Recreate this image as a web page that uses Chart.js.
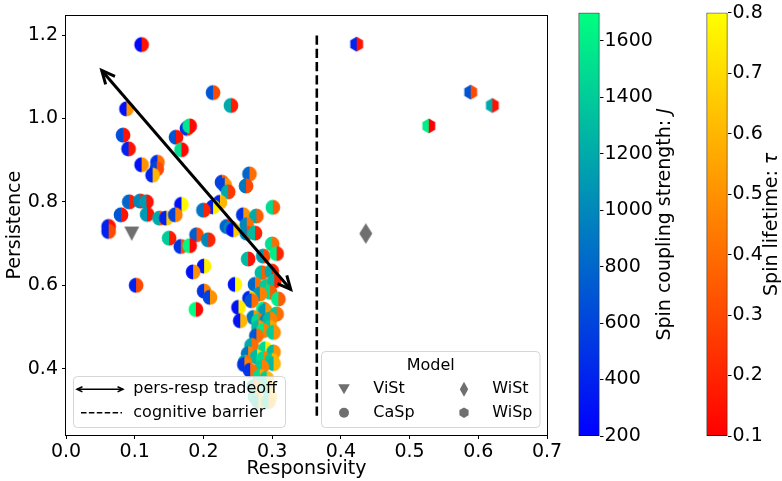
<!DOCTYPE html>
<html>
<head>
<meta charset="utf-8">
<script src="https://cdn.jsdelivr.net/npm/chart.js@4.4.1/dist/chart.umd.min.js"></script>
<style>
  html, body { margin: 0; padding: 0; background: #fff; }
  #wrap { position: relative; width: 782px; height: 481px; overflow: hidden; }
  #wrap canvas { position: absolute; top: 0; }
</style>
</head>
<body>
<div id="wrap">
  <canvas id="main" width="600" height="481" style="left:0"></canvas>
  <canvas id="barJ" width="110" height="481" style="left:578px"></canvas>
  <canvas id="barTau" width="76" height="481" style="left:706px"></canvas>
</div>
<script>
// CaSp runs: responsivity, persistence, coupling strength J, spin lifetime tau
const caspResp = [0.110, 0.214, 0.240, 0.088, 0.176, 0.180, 0.083, 0.160, 0.091, 0.168,
  0.110, 0.133, 0.132, 0.126, 0.267, 0.227, 0.231, 0.262, 0.236, 0.092,
  0.108, 0.117, 0.168, 0.224, 0.301, 0.214, 0.200, 0.080, 0.118, 0.136,
  0.146, 0.159, 0.258, 0.277, 0.062, 0.062, 0.234, 0.240, 0.2435, 0.263,
  0.263, 0.275, 0.190, 0.150, 0.207, 0.167, 0.180, 0.300, 0.265, 0.287,
  0.3065, 0.201, 0.185, 0.285, 0.2995, 0.102, 0.246, 0.275, 0.292, 0.303,
  0.201, 0.297, 0.282, 0.2095, 0.267, 0.270, 0.309, 0.189, 0.251, 0.287,
  0.290, 0.3065, 0.273, 0.2535, 0.280, 0.292, 0.297, 0.280, 0.297, 0.287,
  0.302, 0.277, 0.270, 0.290, 0.302, 0.265, 0.278, 0.287, 0.2995, 0.2605,
  0.2595, 0.302, 0.285, 0.268, 0.282, 0.292, 0.273, 0.292, 0.275, 0.297,
  0.280, 0.2945];
const caspPers = [1.177, 1.062, 1.031, 1.023, 0.976, 0.982, 0.960, 0.955, 0.927, 0.925,
  0.889, 0.895, 0.879, 0.864, 0.867, 0.847, 0.840, 0.838, 0.824, 0.800,
  0.802, 0.800, 0.794, 0.799, 0.787, 0.788, 0.780, 0.769, 0.770, 0.761,
  0.761, 0.769, 0.769, 0.766, 0.741, 0.729, 0.741, 0.737, 0.733, 0.745,
  0.725, 0.725, 0.721, 0.713, 0.709, 0.693, 0.695, 0.699, 0.663, 0.670,
  0.676, 0.646, 0.632, 0.630, 0.634, 0.600, 0.602, 0.602, 0.598, 0.610,
  0.586, 0.583, 0.579, 0.571, 0.569, 0.563, 0.567, 0.542, 0.547, 0.543,
  0.539, 0.531, 0.523, 0.515, 0.515, 0.515, 0.519, 0.499, 0.499, 0.491,
  0.487, 0.479, 0.456, 0.448, 0.440, 0.436, 0.428, 0.424, 0.420, 0.416,
  0.410, 0.412, 0.404, 0.396, 0.381, 0.377, 0.357, 0.357, 0.333, 0.333,
  0.321, 0.321];
const caspJ = [250, 700, 1200, 300, 500, 1550, 650, 700, 400, 1500,
  300, 500, 600, 400, 800, 600, 600, 900, 1200, 800,
  1000, 1100, 300, 400, 1500, 400, 900, 700, 1100, 1200,
  400, 600, 500, 1200, 400, 400, 800, 1000, 300, 1000,
  1000, 1300, 750, 1400, 1000, 500, 1650, 1500, 1300, 1100,
  1600, 300, 300, 1300, 1200, 400, 300, 800, 1400, 1300,
  500, 1500, 1100, 600, 400, 700, 1600, 1700, 300, 1600,
  1100, 1400, 900, 300, 1500, 1000, 1300, 1300, 1400, 1600,
  1400, 700, 1200, 1500, 1300, 900, 1300, 1500, 1400, 1200,
  500, 1300, 1400, 500, 1500, 1400, 1300, 1500, 1400, 1500,
  1300, 1400];
const caspTau = [0.15, 0.30, 0.18, 0.50, 0.20, 0.12, 0.15, 0.15, 0.15, 0.12,
  0.50, 0.40, 0.30, 0.60, 0.40, 0.35, 0.50, 0.30, 0.25, 0.18,
  0.20, 0.15, 0.78, 0.60, 0.35, 0.75, 0.20, 0.15, 0.15, 0.35,
  0.65, 0.45, 0.50, 0.35, 0.15, 0.30, 0.18, 0.35, 0.65, 0.40,
  0.30, 0.20, 0.30, 0.18, 0.20, 0.30, 0.12, 0.40, 0.15, 0.30,
  0.20, 0.75, 0.50, 0.35, 0.20, 0.30, 0.78, 0.40, 0.50, 0.20,
  0.45, 0.35, 0.45, 0.50, 0.70, 0.40, 0.35, 0.12, 0.75, 0.40,
  0.50, 0.40, 0.50, 0.60, 0.40, 0.45, 0.45, 0.50, 0.55, 0.45,
  0.50, 0.40, 0.40, 0.75, 0.50, 0.45, 0.70, 0.45, 0.60, 0.40,
  0.45, 0.60, 0.45, 0.40, 0.55, 0.60, 0.50, 0.60, 0.55, 0.65,
  0.60, 0.55];

// WiSp runs
const wispResp = [0.423, 0.589, 0.6205, 0.528];
const wispPers = [1.178, 1.063, 1.031, 0.982];
const wispJ = [400, 700, 1200, 1600];
const wispTau = [0.15, 0.30, 0.15, 0.10];

// single-point models
const vistResp = [0.0956];
const vistPers = [0.724];
const wistResp = [0.4363];
const wistPers = [0.724];

// guide lines
const tradeoffResp = [0.052, 0.327];
const tradeoffPers = [1.115, 0.59];
const barrierResp = [0.365, 0.365];
const barrierPers = [0.287, 1.2];

// axes
const respTicks = [0, 0.1, 0.2, 0.3, 0.4, 0.5, 0.6, 0.7];
const persTicks = [0.4, 0.6, 0.8, 1.0, 1.2];
const jRange = [200, 1700];
const jTicks = [200, 400, 600, 800, 1000, 1200, 1400, 1600];
const tauRange = [0.1, 0.8];
const tauTicks = [0.1, 0.2, 0.3, 0.4, 0.5, 0.6, 0.7, 0.8];

const GREY = '#6f6f6f';
Chart.defaults.font.family = "'DejaVu Sans', sans-serif";
Chart.defaults.color = '#000';

// winter colormap for J, autumn colormap for tau
function winter(j) {
  const t = Math.min(1, Math.max(0, (j - jRange[0]) / (jRange[1] - jRange[0])));
  return `rgb(0, ${Math.round(255 * t)}, ${Math.round(255 * (1 - 0.5 * t))})`;
}
function autumn(tau) {
  const t = Math.min(1, Math.max(0, (tau - tauRange[0]) / (tauRange[1] - tauRange[0])));
  return `rgb(255, ${Math.round(255 * t)}, 0)`;
}

function shapePath(g, shape, c, r) {
  g.beginPath();
  if (shape === 'hex') {
    for (let k = 0; k < 6; k++) {
      const a = -Math.PI / 2 + k * Math.PI / 3;
      g.lineTo(c + r * Math.cos(a), c + r * Math.sin(a));
    }
    g.closePath();
  } else {
    g.arc(c, c, r, 0, 2 * Math.PI);
  }
}

// marker image: left half coloured by J, right half by tau
function splitMarker(left, right, shape) {
  const s = 18, c = s / 2;
  const cv = document.createElement('canvas');
  cv.width = cv.height = s;
  const g = cv.getContext('2d');
  shapePath(g, shape, c, 7.4);
  g.clip();
  g.fillStyle = left;
  g.fillRect(0, 0, c, s);
  g.fillStyle = right;
  g.fillRect(c, 0, c, s);
  return cv;
}

function polyMarker(w, h, pts) {
  const cv = document.createElement('canvas');
  cv.width = w;
  cv.height = h;
  const g = cv.getContext('2d');
  g.fillStyle = GREY;
  g.beginPath();
  pts.forEach(p => g.lineTo(p[0], p[1]));
  g.closePath();
  g.fill();
  return cv;
}

const caspMarkers = caspJ.map((j, i) => splitMarker(winter(j), autumn(caspTau[i]), 'circle'));
const wispMarkers = wispJ.map((j, i) => splitMarker(winter(j), autumn(wispTau[i]), 'hex'));
const triDown = polyMarker(18, 18, [[1.5, 2], [16.5, 2], [9, 16.3]]);
const thinDiamond = polyMarker(16, 24, [[8, 1.7], [14.5, 12], [8, 22.3], [1.5, 12]]);

const pts = (xs, ys) => xs.map((x, i) => ({ x, y: ys[i] }));

// arrow heads on the tradeoff line, frame and the two legends
const overlay = {
  id: 'overlay',
  afterDatasetsDraw(chart) {
    const ctx = chart.ctx;
    const meta = chart.getDatasetMeta(0).data;
    ctx.save();
    ctx.strokeStyle = '#000';
    ctx.lineWidth = 3;
    ctx.lineJoin = 'miter';
    head(ctx, meta[0], meta[1], 14.5);
    head(ctx, meta[1], meta[0], 14.5);

    const a = chart.chartArea;
    ctx.lineWidth = 1;
    ctx.strokeStyle = '#000';
    ctx.strokeRect(Math.round(a.left) - 0.5, Math.round(a.top) + 0.5,
      Math.round(a.right - a.left) + 1, Math.round(a.bottom - a.top));

    // line legend
    box(ctx, 73.5, 376.5, 212, 51);
    ctx.lineWidth = 1.5;
    ctx.beginPath();
    ctx.moveTo(77, 389.3);
    ctx.lineTo(123, 389.3);
    ctx.stroke();
    head(ctx, { x: 77, y: 389.3 }, { x: 123, y: 389.3 }, 6);
    head(ctx, { x: 123, y: 389.3 }, { x: 77, y: 389.3 }, 6);
    ctx.setLineDash([5.5, 2.4]);
    ctx.beginPath();
    ctx.moveTo(81, 412.7);
    ctx.lineTo(122, 412.7);
    ctx.stroke();
    ctx.setLineDash([]);
    ctx.fillStyle = '#000';
    ctx.font = "16px 'DejaVu Sans'";
    ctx.textBaseline = 'middle';
    ctx.fillText('pers-resp tradeoff', 133.3, 389.3);
    ctx.fillText('cognitive barrier', 133.3, 412.7);

    // model legend
    box(ctx, 321.5, 351.5, 218.5, 76);
    ctx.textAlign = 'center';
    ctx.fillText('Model', 430.8, 366);
    ctx.textAlign = 'left';
    ctx.fillText('ViSt', 373.3, 389.3);
    ctx.fillText('WiSt', 492.3, 389.3);
    ctx.fillText('CaSp', 373.3, 412.7);
    ctx.fillText('WiSp', 492.3, 412.7);
    ctx.fillStyle = GREY;
    poly(ctx, [[338.2, 384.3], [349.8, 384.3], [344, 394.3]]);
    poly(ctx, [[464, 381.8], [468.2, 389.3], [464, 396.8], [459.8, 389.3]]);
    ctx.beginPath();
    ctx.arc(344, 412.7, 5, 0, 2 * Math.PI);
    ctx.fill();
    ctx.beginPath();
    for (let k = 0; k < 6; k++) {
      const t = -Math.PI / 2 + k * Math.PI / 3;
      ctx.lineTo(464 + 5.3 * Math.cos(t), 412.7 + 5.3 * Math.sin(t));
    }
    ctx.fill();
    ctx.restore();
  }
};

function head(ctx, tip, from, len) {
  const a = Math.atan2(tip.y - from.y, tip.x - from.x);
  const w = 0.44;
  ctx.beginPath();
  ctx.moveTo(tip.x - len * Math.cos(a - w), tip.y - len * Math.sin(a - w));
  ctx.lineTo(tip.x, tip.y);
  ctx.lineTo(tip.x - len * Math.cos(a + w), tip.y - len * Math.sin(a + w));
  ctx.stroke();
}

function box(ctx, x, y, w, h) {
  ctx.save();
  ctx.beginPath();
  ctx.roundRect(x, y, w, h, 4);
  ctx.fillStyle = 'rgba(255,255,255,0.8)';
  ctx.fill();
  ctx.strokeStyle = 'rgba(204,204,204,0.8)';
  ctx.lineWidth = 1;
  ctx.stroke();
  ctx.restore();
}

function poly(ctx, p) {
  ctx.beginPath();
  p.forEach(q => ctx.lineTo(q[0], q[1]));
  ctx.closePath();
  ctx.fill();
}

new Chart(document.getElementById('main'), {
  type: 'scatter',
  data: {
    datasets: [
      {
        label: 'pers-resp tradeoff',
        data: pts(tradeoffResp, tradeoffPers),
        showLine: true,
        borderColor: '#000',
        borderWidth: 3,
        pointRadius: 0,
        order: 0
      },
      {
        label: 'cognitive barrier',
        data: pts(barrierResp, barrierPers),
        showLine: true,
        borderColor: '#000',
        borderWidth: 2.6,
        borderDash: [9.25, 4],
        pointRadius: 0,
        order: 0
      },
      {
        label: 'CaSp',
        data: pts(caspResp, caspPers),
        pointStyle: caspMarkers,
        pointRadius: 7.4,
        order: 1
      },
      {
        label: 'WiSp',
        data: pts(wispResp, wispPers),
        pointStyle: wispMarkers,
        pointRadius: 7.4,
        order: 1
      },
      {
        label: 'ViSt',
        data: pts(vistResp, vistPers),
        pointStyle: triDown,
        pointRadius: 8,
        order: 1
      },
      {
        label: 'WiSt',
        data: pts(wistResp, wistPers),
        pointStyle: thinDiamond,
        pointRadius: 8,
        order: 1
      }
    ]
  },
  options: {
    responsive: false,
    animation: false,
    events: [],
    layout: { padding: { top: 12, right: 53, left: 0, bottom: 0 } },
    plugins: { legend: { display: false }, tooltip: { enabled: false } },
    scales: {
      x: {
        type: 'linear',
        min: 0,
        max: 0.7,
        afterBuildTicks: s => { s.ticks = respTicks.map(v => ({ value: v })); },
        afterFit: s => { s.height = 46; },
        ticks: { callback: v => v.toFixed(1), font: { size: 19 }, padding: 2, maxRotation: 0 },
        grid: { drawOnChartArea: false, tickLength: 4, tickColor: '#000' },
        border: { display: false },
        title: { display: true, text: 'Responsivity', font: { size: 19 }, padding: { top: 0, bottom: 1 } }
      },
      y: {
        type: 'linear',
        min: 0.241,
        max: 1.247,
        afterBuildTicks: s => { s.ticks = persTicks.map(v => ({ value: v })); },
        afterFit: s => { s.width = 66; },
        ticks: { callback: v => v.toFixed(1), font: { size: 19 }, padding: 4 },
        grid: { drawOnChartArea: false, tickLength: 4, tickColor: '#000' },
        border: { display: false },
        title: { display: true, text: 'Persistence', font: { size: 19 }, padding: { top: 4, bottom: 0 } }
      }
    }
  },
  plugins: [overlay]
});

// colorbar: one floating bar spanning the range, filled with the colormap
function colorbar(id, range, ticks, fmt, bottomColor, topColor, title, symbol, titleX) {
  const canvas = document.getElementById(id);
  const titlePlugin = {
    id: 'cbTitle',
    afterDraw(chart) {
      const ctx = chart.ctx;
      const a = chart.chartArea;
      ctx.save();
      ctx.translate(titleX, (a.top + a.bottom) / 2);
      ctx.rotate(-Math.PI / 2);
      ctx.fillStyle = '#000';
      ctx.textBaseline = 'middle';
      const plain = "19px 'DejaVu Sans'";
      const ital = "oblique 19px 'DejaVu Sans'";
      ctx.font = plain;
      const w1 = ctx.measureText(title).width;
      ctx.font = ital;
      const w2 = ctx.measureText(symbol).width;
      let x = -(w1 + w2) / 2;
      ctx.font = plain;
      ctx.fillText(title, x, 0);
      ctx.font = ital;
      ctx.fillText(symbol, x + w1, 0);
      ctx.restore();
    }
  };
  new Chart(canvas, {
    type: 'bar',
    data: {
      labels: [''],
      datasets: [{
        data: [range],
        backgroundColor: c => {
          const a = c.chart.chartArea;
          if (!a) return bottomColor;
          const g = c.chart.ctx.createLinearGradient(0, a.bottom, 0, a.top);
          g.addColorStop(0, bottomColor);
          g.addColorStop(1, topColor);
          return g;
        },
        borderColor: '#000',
        borderWidth: 1,
        borderSkipped: false,
        categoryPercentage: 1,
        barPercentage: 1
      }]
    },
    options: {
      responsive: false,
      animation: false,
      events: [],
      layout: { padding: { top: 12.7, bottom: 45, left: 0.5, right: 0 } },
      plugins: { legend: { display: false }, tooltip: { enabled: false } },
      scales: {
        x: { display: false },
        y: {
          position: 'right',
          min: range[0],
          max: range[1],
          afterBuildTicks: s => { s.ticks = ticks.map(v => ({ value: v })); },
          afterFit: s => { s.width = canvas.width - 21.5; },
          ticks: { callback: fmt, font: { size: 19 }, padding: 1 },
          grid: { drawOnChartArea: false, tickLength: 4, tickColor: '#000' },
          border: { display: false }
        }
      }
    },
    plugins: [titlePlugin]
  });
}

colorbar('barJ', jRange, jTicks, v => String(v), winter(jRange[0]), winter(jRange[1]),
  'Spin coupling strength: ', 'J', 87);
colorbar('barTau', tauRange, tauTicks, v => v.toFixed(1), autumn(tauRange[0]), autumn(tauRange[1]),
  'Spin lifetime: ', 'τ', 66.5);
</script>
</body>
</html>
